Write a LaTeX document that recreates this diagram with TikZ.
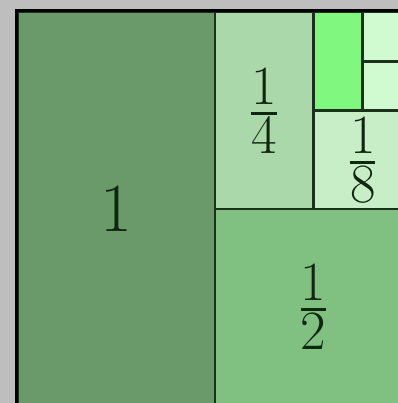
\documentclass[tikz,border=0pt]{standalone}
\usepackage{amsmath}
\usepackage{xcolor}
\definecolor{bgc}{HTML}{BEBEBE}
\definecolor{onec}{HTML}{6A9A6A}
\definecolor{halfc}{HTML}{80C080}
\definecolor{quartc}{HTML}{AAD8AA}
\definecolor{eighthc}{HTML}{C8EEC8}
\definecolor{sixtc}{HTML}{80F880}
\definecolor{tinyc}{HTML}{D0FAD0}
\definecolor{edgec}{HTML}{1C301C}
\definecolor{inkc}{HTML}{0F260F}
\usetikzlibrary{positioning}
\tikzset{
  blk/.style={draw=edgec,line width=1.9pt},
  frame/.style={draw=black,line width=2.1pt},
  lbl/.style={text=inkc,inner sep=0pt,font=\Huge},
}
\newcommand{\bignum}[1]{\scalebox{1.97}{$#1$}}
\newcommand{\frc}[2]{\scalebox{1.9}{$\tfrac{#1}{#2}$}}
\begin{document}
\begin{tikzpicture}[x=0.025cm,y=-0.025cm]
  \fill[bgc] (0,0) rectangle (398,403);
  \useasboundingbox (0,0) rectangle (398,403);
  \clip (0,0) rectangle (398,403);
  % the blocks
  \draw[blk,fill=onec] (18,12) rectangle (215,406);
  \draw[blk,fill=quartc] (215,12) rectangle (313.5,209);
  \draw[blk,fill=halfc] (215,209) rectangle (412,406);
  \draw[blk,fill=eighthc] (313.5,110.5) rectangle (412,209);
  \draw[blk,fill=sixtc] (313.5,12) rectangle (362.75,110.5);
  \draw[blk,fill=tinyc] (362.75,12) rectangle (412,61.25);
  \draw[blk,fill=tinyc] (362.75,61.25) rectangle (412,110.5);
  \draw[frame] (16.5,10.5) rectangle (413.5,407.5);
  % labels
  \node[lbl] (one) at (116.5,209) {\bignum{1}};
  \node[lbl] (quart) at (264,111) {\frc{1}{4}};
  \node[lbl] (half) at (313.5,307) {\frc{1}{2}};
  \node[lbl] (eighth) at (362.75,160) {\frc{1}{8}};
\end{tikzpicture}
\end{document}
